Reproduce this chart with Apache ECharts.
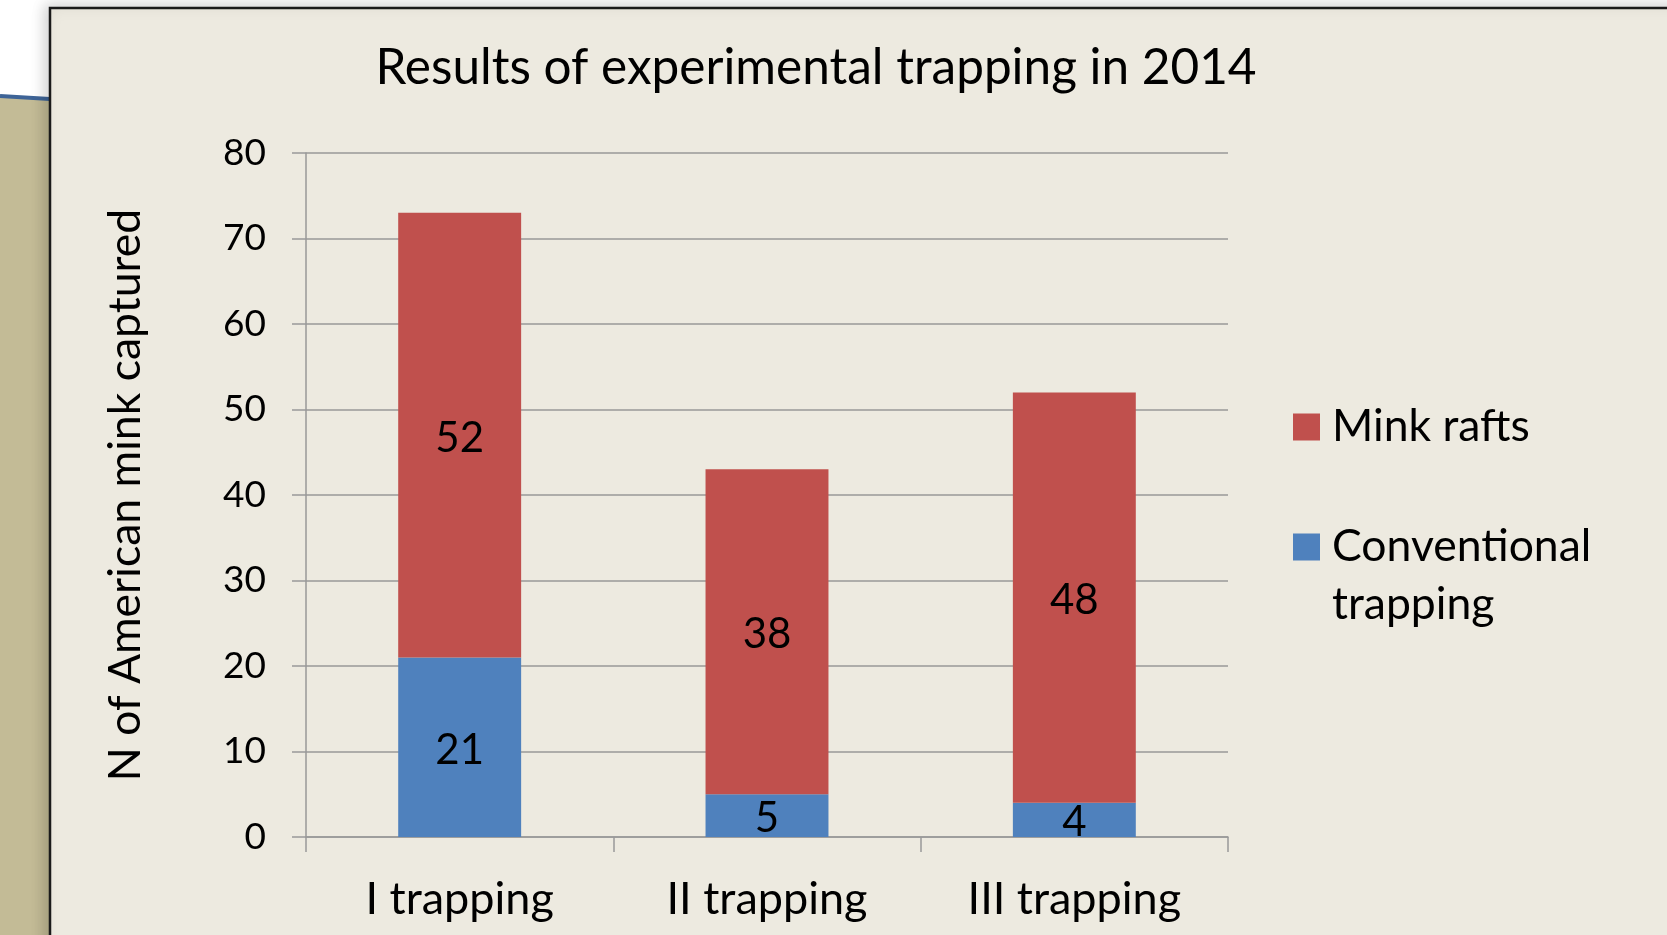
<!DOCTYPE html>
<html>
<head>
<meta charset="utf-8">
<script src="https://cdn.jsdelivr.net/npm/echarts@6/dist/echarts.min.js"></script>
<style>
html,body{margin:0;padding:0;background:#ffffff;}
#chart{width:1667px;height:935px;}
</style>
</head>
<body>
<div id="chart"></div>
<script>
const titleText = 'Results of experimental trapping in 2014';
const categories = ['I trapping', 'II trapping', 'III trapping'];
const conventional = [21, 5, 4];
const minkRafts = [52, 38, 48];
const yTicks = { min: 0, max: 80, interval: 10 };
const yName = 'N of American mink captured';
const seriesNames = ['Mink rafts', 'Conventional trapping'];

const FONT = 'Lato';
const chart = echarts.init(document.getElementById('chart'), null, { renderer: 'canvas' });

const option = {
  backgroundColor: '#ffffff',
  animation: false,
  graphic: [
    { type: 'rect', z: -10, shape: { x: 0, y: 0, width: 50, height: 935 }, style: { fill: '#ffffff' } },
    { type: 'polygon', z: -9, shape: { points: [[0, 97], [50, 100], [50, 935], [0, 935]] }, style: { fill: '#C3BB96' } },
    { type: 'polyline', z: -8, shape: { points: [[0, 96], [50, 99]] }, style: { stroke: '#3E6497', lineWidth: 4 } },
    { type: 'rect', z: -7, shape: { x: 50, y: 8, width: 1640, height: 960 }, style: { fill: '#EDEAE0', stroke: '#1a1a1a', lineWidth: 2.5, shadowBlur: 14, shadowColor: 'rgba(0,0,0,0.18)', shadowOffsetX: -4, shadowOffsetY: -2 } }
  ],
  title: {
    text: titleText,
    left: 811,
    textAlign: 'center',
    top: 38,
    textStyle: { fontFamily: FONT, fontSize: 49.5, fontWeight: 'normal', color: '#000' }
  },
  legend: {
    orient: 'vertical',
    left: 1288,
    top: 393,
    itemWidth: 27,
    itemHeight: 27,
    itemGap: 4,
    icon: 'rect',
    formatter: function (n) { return n === 'Conventional trapping' ? '\nConventional\ntrapping' : n; },
    textStyle: { fontFamily: FONT, fontSize: 44.5, color: '#000', lineHeight: 58, padding: [0, 0, 0, 7] },
    data: [ { name: seriesNames[0] }, { name: seriesNames[1] } ]
  },
  grid: { left: 306, top: 153, right: 439, bottom: 98, containLabel: false },
  xAxis: {
    type: 'category',
    data: categories,
    axisLine: { lineStyle: { color: '#999999', width: 1.5 } },
    axisTick: { show: true, length: 15, alignWithLabel: false, lineStyle: { color: '#999999', width: 1.5 } },
    axisLabel: { fontFamily: FONT, fontSize: 45, color: '#000', margin: 40 }
  },
  yAxis: {
    type: 'value',
    min: yTicks.min,
    max: yTicks.max,
    interval: yTicks.interval,
    name: yName,
    nameLocation: 'middle',
    nameGap: 158,
    nameTextStyle: { fontFamily: FONT, fontSize: 44.5, color: '#000' },
    axisLine: { show: true, lineStyle: { color: '#999999', width: 1.5 } },
    axisTick: { show: true, length: 14, lineStyle: { color: '#999999', width: 1.5 } },
    axisLabel: { fontFamily: FONT, fontSize: 37, color: '#000', margin: 40 },
    splitLine: { lineStyle: { color: '#999999', width: 1.5 } }
  },
  series: [
    {
      name: seriesNames[1],
      type: 'bar',
      stack: 'total',
      data: conventional,
      barWidth: '40%',
      itemStyle: { color: '#4F81BD' },
      label: { show: true, position: 'inside', offset: [0, 3], fontFamily: FONT, fontSize: 42, color: '#000' }
    },
    {
      name: seriesNames[0],
      type: 'bar',
      stack: 'total',
      data: minkRafts,
      barWidth: '40%',
      itemStyle: { color: '#C0504D' },
      label: { show: true, position: 'inside', offset: [0, 3], fontFamily: FONT, fontSize: 42, color: '#000' }
    }
  ]
};
chart.setOption(option);
</script>
</body>
</html>
